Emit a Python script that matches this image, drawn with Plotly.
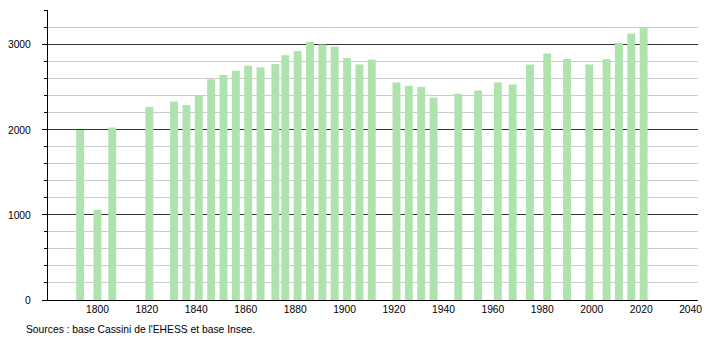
import plotly.graph_objects as go

years = [1793, 1800, 1806, 1821, 1831, 1836, 1841, 1846, 1851, 1856, 1861, 1866,
         1872, 1876, 1881, 1886, 1891, 1896, 1901, 1906, 1911, 1921, 1926, 1931,
         1936, 1946, 1954, 1962, 1968, 1975, 1982, 1990, 1999, 2006, 2011, 2016, 2021]
population = [2000, 1060, 2027, 2270, 2333, 2294, 2400, 2596, 2647, 2696, 2753, 2737,
              2776, 2878, 2929, 3035, 3004, 2980, 2847, 2768, 2827, 2557, 2518, 2506,
              2380, 2424, 2463, 2557, 2533, 2768, 2898, 2835, 2768, 2831, 3024, 3133, 3204]
y_major = [0, 1000, 2000, 3000]
x_ticks = list(range(1800, 2041, 20))
source_text = "Sources : base Cassini de l'EHESS et base Insee."

fig = go.Figure()
fig.add_trace(go.Bar(
    x=years, y=population, width=3.2,
    marker=dict(color="#aee3ae", line=dict(width=0)),
    hoverinfo="x+y",
))

fig.update_layout(
    width=710, height=340,
    margin=dict(l=44, r=8, t=10, b=40),
    paper_bgcolor="white", plot_bgcolor="white",
    showlegend=False,
    font=dict(family="Liberation Sans, Arial, sans-serif", size=10.3, color="#000"),
    xaxis=dict(
        range=[1780, 2043], tickmode="array", tickvals=x_ticks,
        ticktext=[str(t) for t in x_ticks],
        showgrid=False, zeroline=False,
        showline=True, linecolor="#000", linewidth=1.2,
        ticks="", ticklabelstandoff=0,
        tickfont=dict(size=10.3),
    ),
    yaxis=dict(
        range=[0, 3410], tickmode="array", tickvals=y_major,
        showgrid=True, gridcolor="#333", gridwidth=1,
        zeroline=False,
        showline=True, linecolor="#000", linewidth=1.2,
        ticks="outside", ticklen=5, tickcolor="#000", tickwidth=1,
        tickfont=dict(size=10.3),
        ticklabelstandoff=9,
        minor=dict(dtick=200, tick0=0, showgrid=True, gridcolor="#cccccc",
                   gridwidth=1, ticks="outside", ticklen=3, tickcolor="#000"),
    ),
    annotations=[dict(
        text=source_text, xref="paper", yref="paper",
        x=-44/658 + 20/658, y=-29/290, xanchor="left", yanchor="middle",
        showarrow=False, font=dict(size=10.3, color="#000"),
    )],
)

fig.write_html("out.html")
